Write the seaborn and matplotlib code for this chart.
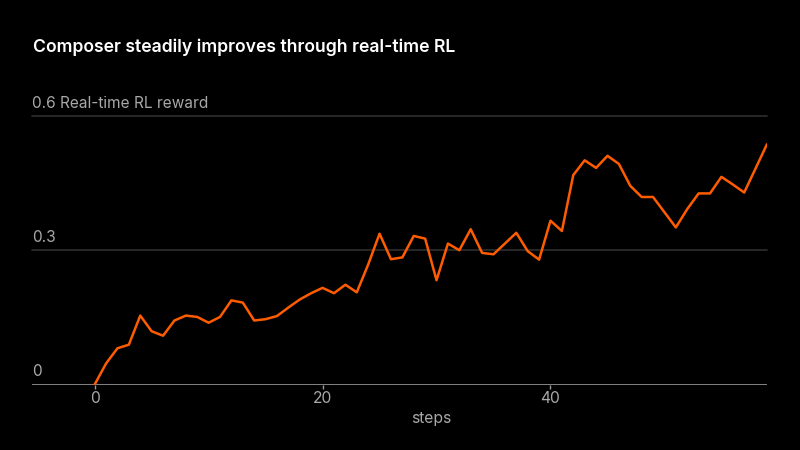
import numpy as np
import pandas as pd
import matplotlib
matplotlib.use("Agg")
import matplotlib.pyplot as plt
import seaborn as sns

# values
steps = list(range(60))
reward = [
    0.000, 0.047, 0.081, 0.089, 0.154, 0.119, 0.109, 0.143, 0.154, 0.151,
    0.138, 0.151, 0.188, 0.183, 0.143, 0.146, 0.153, 0.172, 0.190, 0.204,
    0.216, 0.204, 0.223, 0.206, 0.268, 0.337, 0.280, 0.284, 0.332, 0.326,
    0.233, 0.315, 0.300, 0.347, 0.294, 0.291, 0.315, 0.339, 0.298, 0.279,
    0.366, 0.343, 0.468, 0.501, 0.484, 0.511, 0.493, 0.444, 0.419, 0.419,
    0.385, 0.351, 0.392, 0.427, 0.427, 0.464, 0.447, 0.429, 0.483, 0.537,
]
y_ticks = [0, 0.3, 0.6]
y_tick_labels = ["0", "0.3", "0.6 Real-time RL reward"]
x_ticks = [0, 20, 40]

df = pd.DataFrame({"step": steps, "reward": reward})

BG = "#000000"
ORANGE = "#ff5c00"
GREY = "#a8a8a8"

sns.set_style("dark")
plt.rcParams["font.family"] = ["Inter", "DejaVu Sans"]

fig = plt.figure(figsize=(8, 4.5), dpi=100, facecolor=BG)
ax = fig.add_axes([32 / 800, 1 - 384.5 / 450, (767 - 32) / 800, (384.5 - 116) / 450])
ax.set_facecolor(BG)

sns.lineplot(data=df, x="step", y="reward", ax=ax, color=ORANGE, linewidth=1.8, zorder=3)

ax.set_xlim(-5.5, 59)
ax.set_ylim(0, 0.6)

# horizontal grid lines (drawn by hand so the top one is not clipped)
for v in y_ticks[1:]:
    ax.axhline(v, color="#2e2e2e", linewidth=1.2, zorder=1, clip_on=False)
ax.axhline(0, color="#9a9a9a", linewidth=1.2, zorder=2)

for s in ax.spines.values():
    s.set_visible(False)
ax.grid(False)

# y labels sit above their grid lines
ax.set_yticks([])
for v, lab in zip(y_ticks, y_tick_labels):
    ax.text(-5.5, v + 0.012, lab, color=GREY, fontsize=11.1, fontweight="normal",
            ha="left", va="bottom")

ax.set_xticks(x_ticks)
ax.set_xticklabels([str(t) for t in x_ticks])
ax.tick_params(axis="x", colors="#9a9a9a", labelcolor=GREY, labelsize=11.3,
               length=3, width=1, pad=1.5, direction="out", bottom=True)
ax.set_xlabel("")
ax.set_ylabel("")
ax.text(29.5, -0.077, "steps", color=GREY, fontsize=11.3,
        ha="center", va="center")

fig.text(33 / 800, 1 - 47 / 450, "Composer steadily improves through real-time RL",
         color="white", fontsize=12.7, fontweight="semibold", ha="left", va="center")

fig.savefig("out.png", dpi=100, facecolor=BG)
